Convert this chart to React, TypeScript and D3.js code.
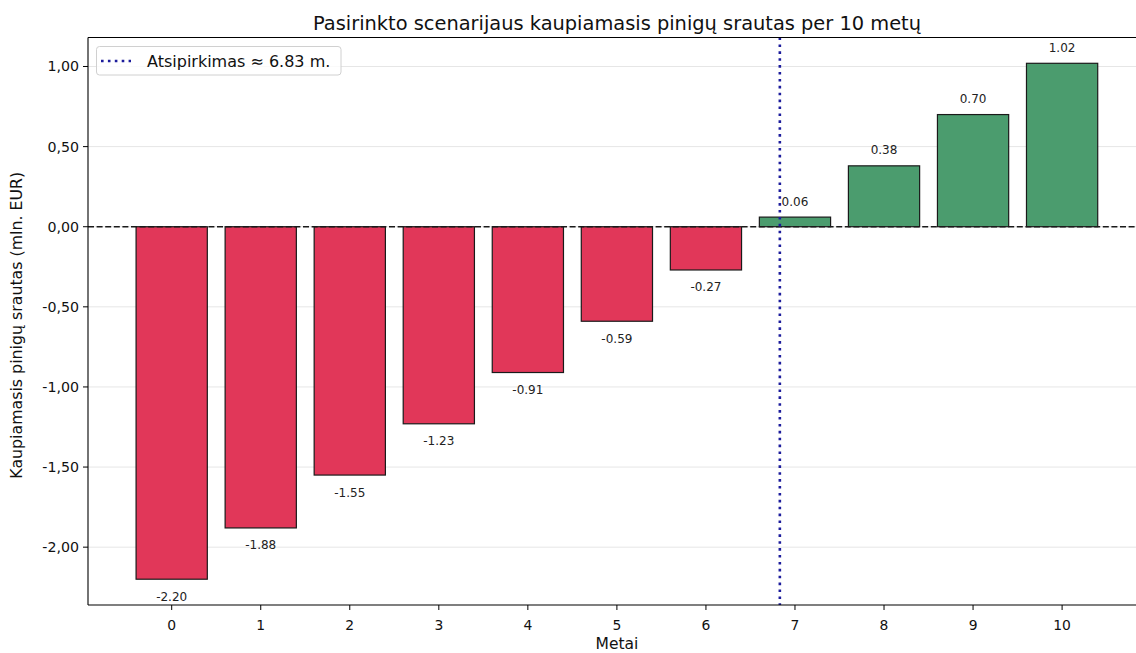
import * as d3 from 'd3'

const YEARS = [0, 1, 2, 3, 4, 5, 6, 7, 8, 9, 10]
const CUMULATIVE = [-2.2, -1.88, -1.55, -1.23, -0.91, -0.59, -0.27, 0.06, 0.38, 0.7, 1.02]
const Y_TICKS = [-2, -1.5, -1, -0.5, 0, 0.5, 1]
const PAYBACK = 6.83

const TITLE = 'Pasirinkto scenarijaus kaupiamasis pinigų srautas per 10 metų'
const X_LABEL = 'Metai'
const Y_LABEL = 'Kaupiamasis pinigų srautas (mln. EUR)'
const LEGEND_LABEL = `Atsipirkimas ≈ ${PAYBACK} m.`

const W = 1136
const H = 653
const PLOT = { left: 88, top: 37.5, bottom: 605 }
const FONT = '"DejaVu Sans", sans-serif'
const RED = '#e13759'
const GREEN = '#4b9c6e'
const NAVY = '#1c1c9c'

export default function App() {
  // x domain = bar extent plus matplotlib's 5% margin, clipped at the right edge of the image
  const x = d3.scaleLinear([-0.94, 10.94], [PLOT.left, PLOT.left + 11.88 * 89.04])
  const lo = d3.min(CUMULATIVE)!
  const hi = d3.max(CUMULATIVE)!
  const pad = (hi - lo) * 0.05
  const y = d3.scaleLinear([lo - pad, hi + pad], [PLOT.bottom, PLOT.top])
  const bw = x(0.8) - x(0)
  const fmt = (v: number) => v.toFixed(2).replace('.', ',')

  return (
    <svg width={W} height={H} style={{ position: 'absolute', left: 0, top: 0, fontFamily: FONT }}>
      <rect width={W} height={H} fill="#fff" />

      {/* grid */}
      {Y_TICKS.map(t => (
        <line key={'g' + t} x1={PLOT.left} x2={W} y1={y(t)} y2={y(t)} stroke="#e6e6e6" strokeWidth={1} />
      ))}

      {/* bars */}
      {YEARS.map((yr, i) => {
        const v = CUMULATIVE[i]
        const y0 = y(Math.max(0, v))
        const y1 = y(Math.min(0, v))
        return (
          <rect key={'b' + yr} x={x(yr) - bw / 2} y={y0} width={bw} height={y1 - y0}
            fill={v < 0 ? RED : GREEN} stroke="#1a1a1a" strokeWidth={1.2} />
        )
      })}

      {/* value labels */}
      {YEARS.map((yr, i) => {
        const v = CUMULATIVE[i]
        return (
          <text key={'l' + yr} x={x(yr)} y={v >= 0 ? y(v) - 11.5 : y(v) + 21.5}
            textAnchor="middle" fontSize={12} fill="#222">{v.toFixed(2)}</text>
        )
      })}

      {/* zero line */}
      <line x1={PLOT.left} x2={W} y1={y(0)} y2={y(0)} stroke="#1a1a1a" strokeWidth={1.6} strokeDasharray="6,2.6" />

      {/* payback line */}
      <line x1={x(PAYBACK)} x2={x(PAYBACK)} y1={PLOT.top} y2={PLOT.bottom} stroke={NAVY} strokeWidth={2.6} strokeDasharray="2.6,4.3" />

      {/* spines */}
      <line x1={PLOT.left} x2={W} y1={PLOT.top} y2={PLOT.top} stroke="#000" strokeWidth={1.1} />
      <line x1={PLOT.left} x2={W} y1={PLOT.bottom} y2={PLOT.bottom} stroke="#000" strokeWidth={1.1} />
      <line x1={PLOT.left} x2={PLOT.left} y1={PLOT.top} y2={PLOT.bottom} stroke="#000" strokeWidth={1.1} />

      {/* x ticks */}
      {YEARS.map(yr => (
        <g key={'xt' + yr}>
          <line x1={x(yr)} x2={x(yr)} y1={PLOT.bottom} y2={PLOT.bottom + 5} stroke="#000" />
          <text x={x(yr)} y={PLOT.bottom + 25} textAnchor="middle" fontSize={13.9} fill="#111">{yr}</text>
        </g>
      ))}

      {/* y ticks */}
      {Y_TICKS.map(t => (
        <g key={'yt' + t}>
          <line x1={PLOT.left - 5} x2={PLOT.left} y1={y(t)} y2={y(t)} stroke="#000" />
          <text x={PLOT.left - 9} y={y(t) + 5} textAnchor="end" fontSize={14.2} fill="#111">{fmt(t)}</text>
        </g>
      ))}

      {/* axis labels */}
      <text x={617} y={649} textAnchor="middle" fontSize={15.5} fill="#111">{X_LABEL}</text>
      <text transform={`translate(22,${(PLOT.top + PLOT.bottom) / 2 + 4}) rotate(-90)`} textAnchor="middle" fontSize={15.8} fill="#111">{Y_LABEL}</text>

      {/* title */}
      <text x={617} y={29.5} textAnchor="middle" fontSize={19.4} fill="#111">{TITLE}</text>

      {/* legend */}
      <rect x={96.5} y={46.5} width={244.5} height={28.5} rx={3} fill="#fff" fillOpacity={0.8} stroke="#d0d0d0" />
      <line x1={101} x2={131} y1={61} y2={61} stroke={NAVY} strokeWidth={2.6} strokeDasharray="2.6,4.3" />
      <text x={147} y={66.5} fontSize={16} fill="#111">{LEGEND_LABEL}</text>
    </svg>
  )
}
